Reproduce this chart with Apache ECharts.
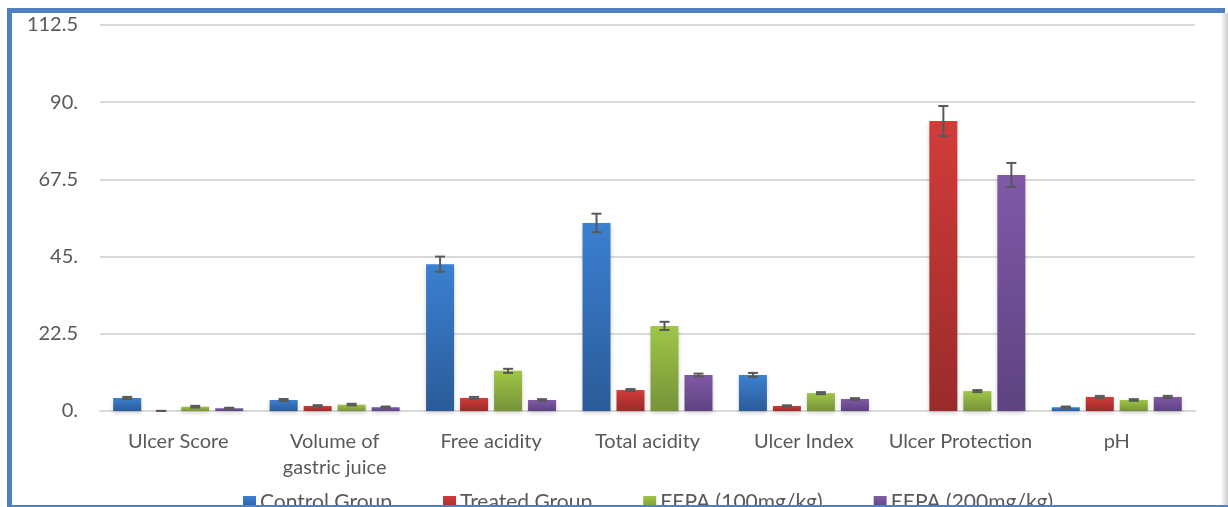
<!DOCTYPE html>
<html>
<head>
<meta charset="utf-8">
<script src="https://cdn.jsdelivr.net/npm/echarts@6/dist/echarts.min.js"></script>
<style>
html,body{margin:0;padding:0;background:#fff;}
#c{width:1228px;height:507px;}
</style>
</head>
<body>
<div id="c"></div>
<script>
var categories = ['Ulcer Score', 'Volume of\ngastric juice', 'Free acidity', 'Total acidity', 'Ulcer Index', 'Ulcer Protection', 'pH'];
var seriesNames = ['Control Group', 'Treated Group', 'EEPA (100mg/kg)', 'EEPA (200mg/kg)'];
var controlVals = [3.8, 3.2, 42.8, 54.8, 10.5, 0, 1.1];
var treatedVals = [0, 1.45, 3.8, 6.1, 1.45, 84.5, 4.1];
var eepa100Vals = [1.25, 1.85, 11.7, 24.8, 5.2, 5.8, 3.2];
var eepa200Vals = [0.8, 1.1, 3.2, 10.5, 3.5, 68.8, 4.1];
var controlErr = [0.3, 0.3, 2.2, 2.7, 0.6, null, 0.2];
var treatedErr = [0.05, 0.25, 0.3, 0.3, 0.2, 4.4, 0.3];
var eepa100Err = [0.25, 0.25, 0.6, 1.2, 0.3, 0.3, 0.25];
var eepa200Err = [0.15, 0.2, 0.25, 0.4, 0.25, 3.5, 0.3];
var yTicks = { min: 0, max: 112.5, interval: 22.5 };

var values = [controlVals, treatedVals, eepa100Vals, eepa200Vals];
var errs = [controlErr, treatedErr, eepa100Err, eepa200Err];
var gradients = [
  ['#3b80d2', '#2b5b98'],
  ['#d23c39', '#9a2b2a'],
  ['#9fc646', '#76933a'],
  ['#8059a8', '#5d4380']
];
var BAR_W = 28, BAR_GAP = 6;
var FONT = 'Lato';

var series = [];
values.forEach(function (vals, i) {
  series.push({
    name: seriesNames[i],
    type: 'bar',
    data: vals,
    barWidth: BAR_W,
    barGap: (BAR_GAP / BAR_W * 100) + '%',
    itemStyle: {
      color: new echarts.graphic.LinearGradient(0, 0, 0, 1, [
        { offset: 0, color: gradients[i][0] },
        { offset: 1, color: gradients[i][1] }
      ]),
      shadowColor: 'rgba(0,0,0,0.18)',
      shadowBlur: 4,
      shadowOffsetY: 2
    },
    z: 2
  });
});
values.forEach(function (vals, i) {
  var total = 4 * BAR_W + 3 * BAR_GAP;
  var off = -total / 2 + i * (BAR_W + BAR_GAP) + BAR_W / 2;
  var data = [];
  vals.forEach(function (v, k) {
    if (errs[i][k] != null) data.push([k, v - errs[i][k], v + errs[i][k]]);
  });
  series.push({
    type: 'custom',
    name: seriesNames[i] + ' err',
    data: data,
    encode: { x: 0, y: [1, 2] },
    z: 5,
    silent: true,
    renderItem: function (params, api) {
      var k = api.value(0);
      var lo = api.coord([k, Math.max(0, api.value(1))]);
      var hi = api.coord([k, api.value(2)]);
      var x = lo[0] + off;
      var cap = 5;
      var st = { stroke: '#595959', lineWidth: 2 };
      return {
        type: 'group',
        children: [
          { type: 'line', shape: { x1: x, y1: hi[1], x2: x, y2: lo[1] }, style: st },
          { type: 'line', shape: { x1: x - cap, y1: hi[1], x2: x + cap, y2: hi[1] }, style: st },
          { type: 'line', shape: { x1: x - cap, y1: lo[1], x2: x + cap, y2: lo[1] }, style: st }
        ]
      };
    }
  });
});

var chart = echarts.init(document.getElementById('c'), null, { renderer: 'canvas' });
chart.setOption({
  animation: false,
  backgroundColor: '#ffffff',
  textStyle: { fontFamily: FONT },
  grid: { left: 100, right: 33, top: 25, bottom: 96, containLabel: false },
  legend: {
    data: seriesNames,
    top: 492,
    left: 243,
    itemWidth: 13,
    itemHeight: 13,
    itemGap: 51,
    icon: 'rect',
    textStyle: { fontFamily: FONT, fontSize: 21, color: '#595959', padding: [0, 0, 0, -1] },
    padding: 0
  },
  xAxis: {
    type: 'category',
    data: categories,
    axisLine: { lineStyle: { color: '#d9d9d9', width: 2 } },
    axisTick: { show: false },
    axisLabel: { fontFamily: FONT, fontSize: 20, color: '#595959', margin: 18, lineHeight: 26, interval: 0 }
  },
  yAxis: {
    type: 'value',
    min: yTicks.min,
    max: yTicks.max,
    interval: yTicks.interval,
    axisLine: { show: false },
    axisTick: { show: false },
    splitLine: { lineStyle: { color: '#d9d9d9', width: 2 } },
    axisLabel: {
      fontFamily: FONT, fontSize: 20, color: '#595959', margin: 22,
      formatter: function (v) { return Number.isInteger(v) ? v + '.' : String(v); }
    }
  },
  series: series,
  graphic: [
    { type: 'rect', z: 100, silent: true, shape: { x: 7, y: 8, width: 1218, height: 5 }, style: { fill: '#4f80bf' } },
    { type: 'rect', z: 100, silent: true, shape: { x: 7, y: 8, width: 5, height: 499 }, style: { fill: '#4f80bf' } },
    { type: 'rect', z: 100, silent: true, shape: { x: 7, y: 505, width: 1221, height: 2 }, style: { fill: '#4f80bf' } },
    { type: 'rect', z: 100, silent: true, shape: { x: 1222, y: 13, width: 6, height: 492 }, style: { fill: new echarts.graphic.LinearGradient(0, 0, 1, 0, [{ offset: 0, color: 'rgba(200,200,200,0.2)' }, { offset: 1, color: 'rgba(200,200,200,0.9)' }]) } }
  ]
});
</script>
</body>
</html>
